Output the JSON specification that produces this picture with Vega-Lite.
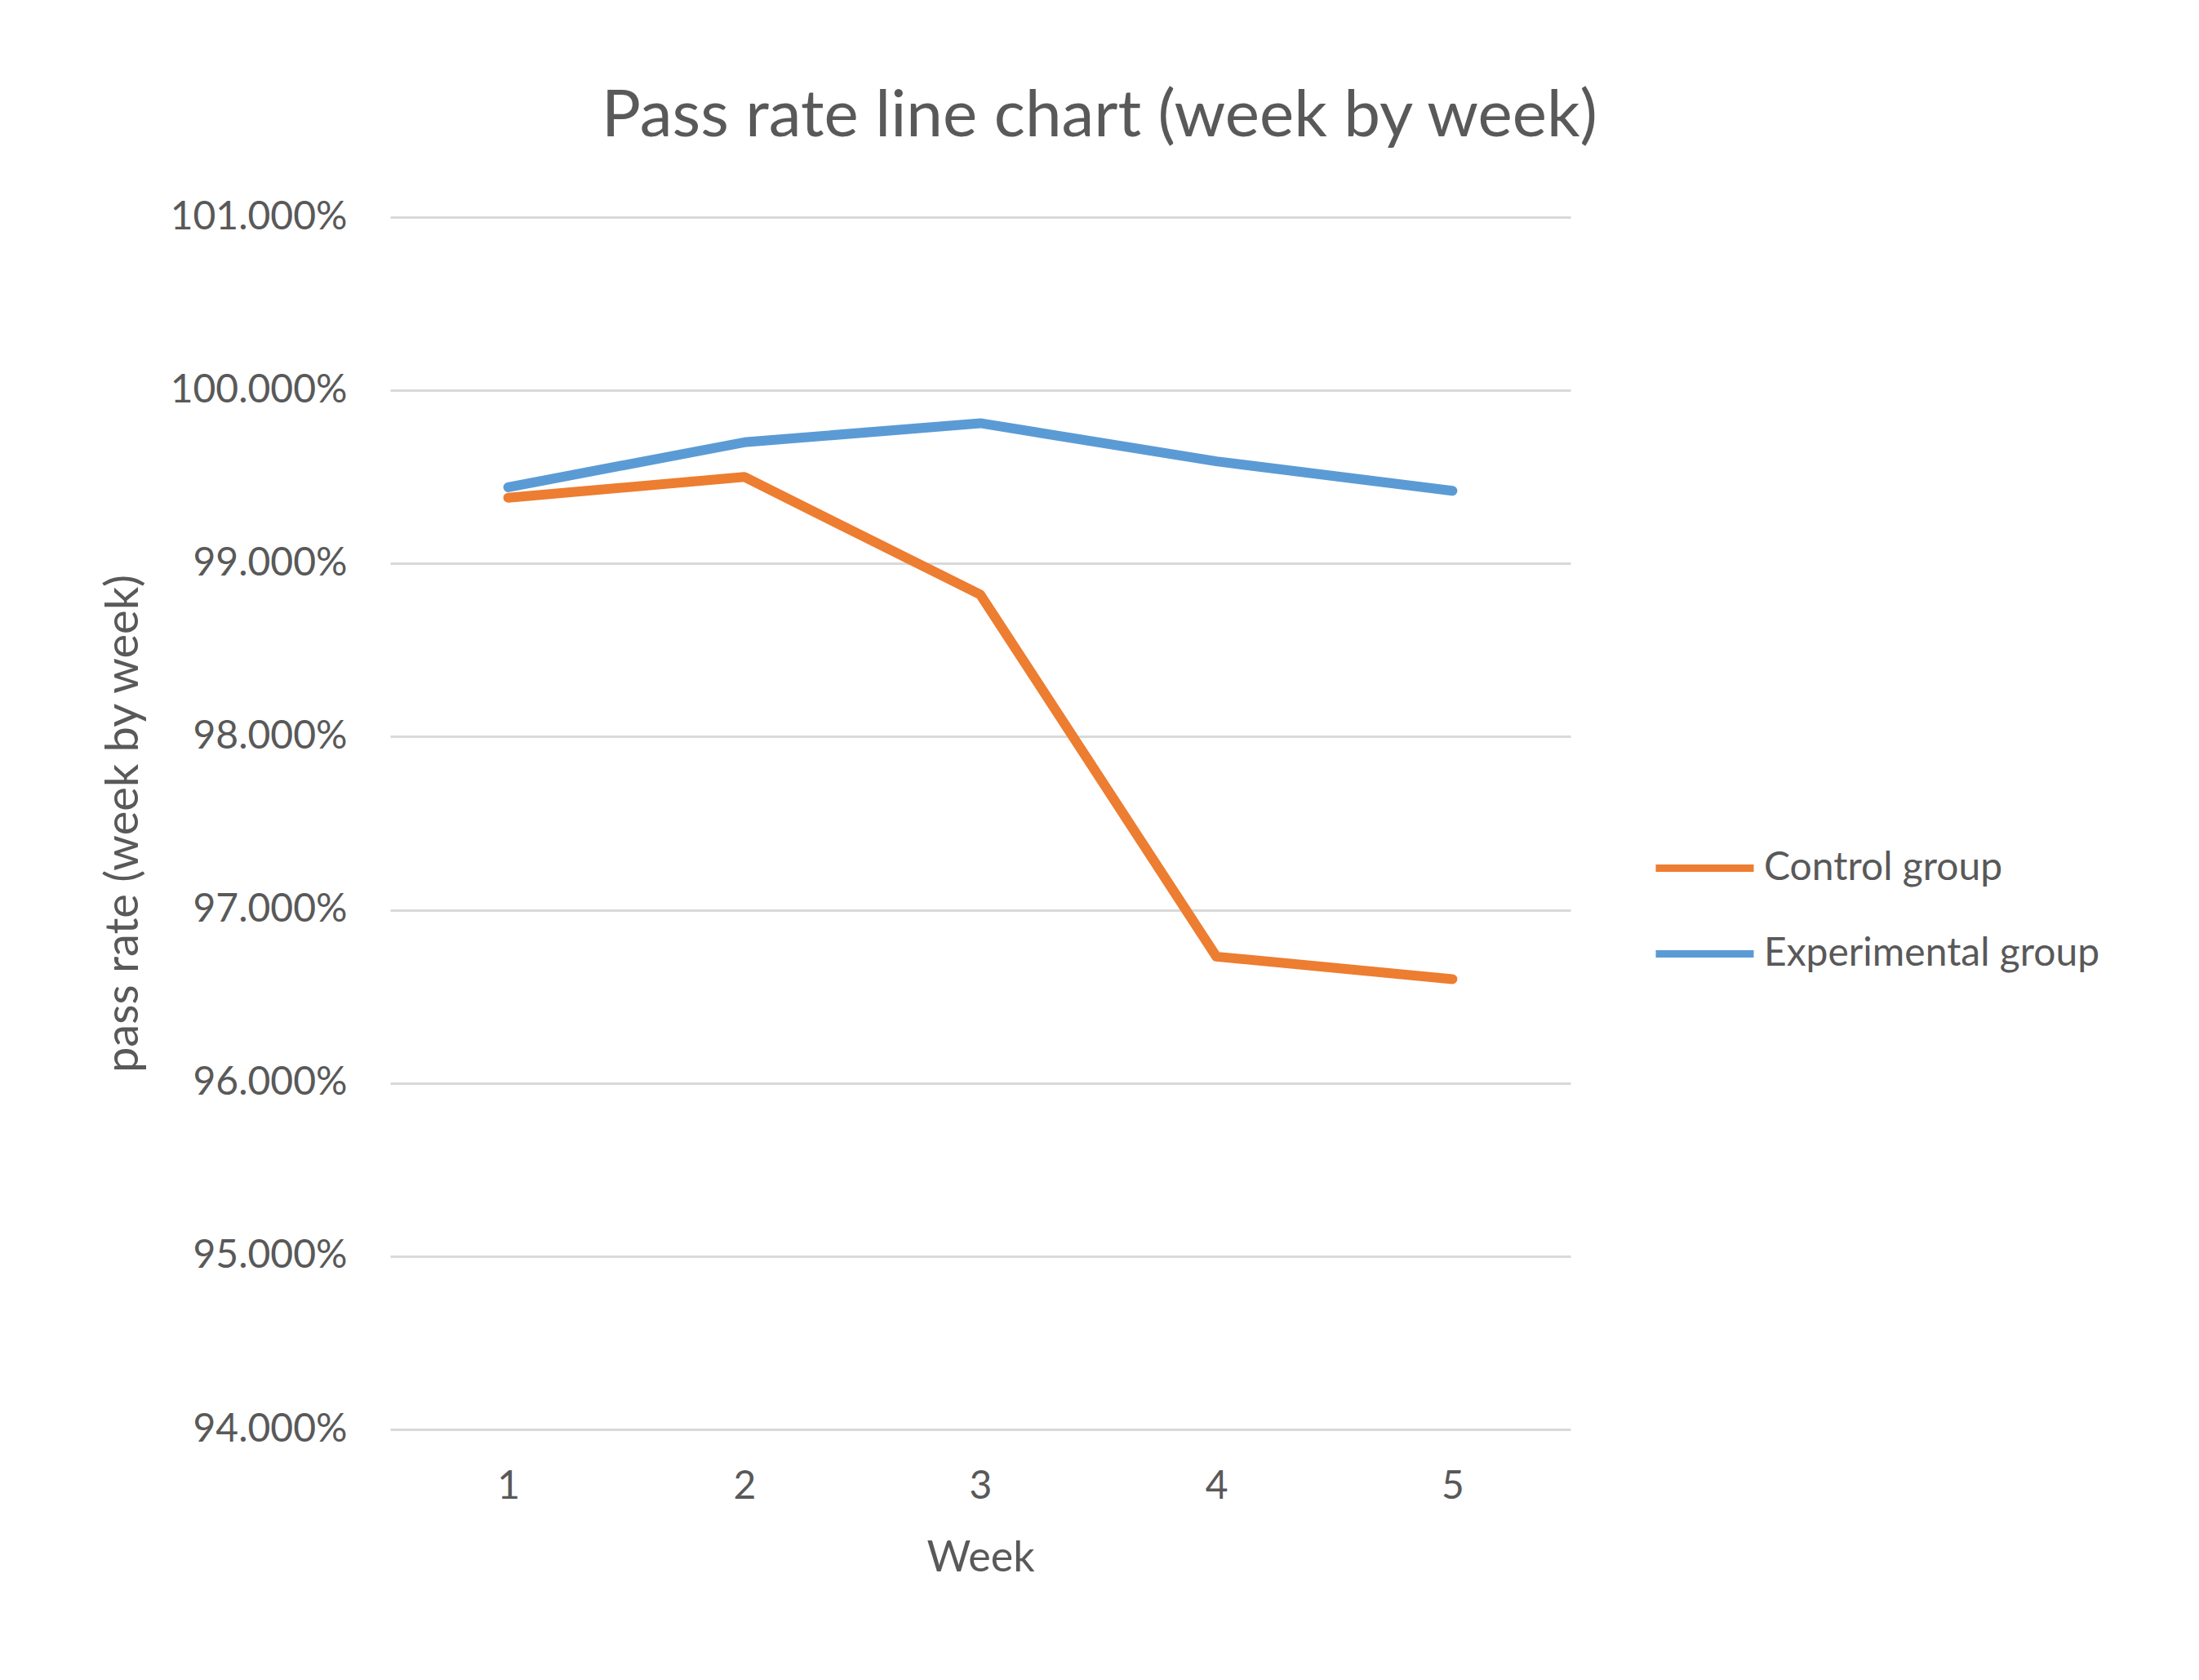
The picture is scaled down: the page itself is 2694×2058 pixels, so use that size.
{
  "$schema": "https://vega.github.io/schema/vega-lite/v6.json",
  "autosize": {"type": "none"},
  "width": 1446,
  "height": 1485,
  "padding": {"left": 478, "top": 266, "right": 770, "bottom": 307},
  "background": "white",
  "view": {"stroke": null},
  "config": {
    "font": "Lato",
    "title": {"fontSize": 80, "fontWeight": "normal", "color": "#595959", "offset": 58, "dx": 146},
    "axis": {"labelColor": "#595959", "titleColor": "#595959", "labelFont": "Lato", "titleFont": "Lato", "titleFontWeight": "normal", "labelLimit": 0},
    "legend": {"labelColor": "#595959", "labelFont": "Lato", "labelLimit": 0}
  },
  "title": {"text": "Pass rate line chart (week by week)"},
  "data": {
    "values": [
      {"Week": "1", "Group": "Control group", "Rate": 99.38},
      {"Week": "2", "Group": "Control group", "Rate": 99.50},
      {"Week": "3", "Group": "Control group", "Rate": 98.82},
      {"Week": "4", "Group": "Control group", "Rate": 96.73},
      {"Week": "5", "Group": "Control group", "Rate": 96.60},
      {"Week": "1", "Group": "Experimental group", "Rate": 99.44},
      {"Week": "2", "Group": "Experimental group", "Rate": 99.70},
      {"Week": "3", "Group": "Experimental group", "Rate": 99.81},
      {"Week": "4", "Group": "Experimental group", "Rate": 99.59},
      {"Week": "5", "Group": "Experimental group", "Rate": 99.42}
    ]
  },
  "mark": {"type": "line", "strokeWidth": 12, "strokeCap": "round", "strokeJoin": "round"},
  "encoding": {
    "x": {
      "field": "Week",
      "type": "ordinal",
      "title": "Week",
      "axis": {
        "labelAngle": 0,
        "labelFontSize": 48,
        "labelPadding": 46,
        "titleFontSize": 52,
        "titlePadding": 38,
        "domain": false,
        "ticks": false,
        "grid": false
      }
    },
    "y": {
      "field": "Rate",
      "type": "quantitative",
      "title": "pass rate (week by week)",
      "scale": {"domain": [94, 101], "nice": false, "zero": false},
      "axis": {
        "values": [94, 95, 96, 97, 98, 99, 100, 101],
        "labelExpr": "format(datum.value, '.3f') + '%'",
        "labelFontSize": 48,
        "labelPadding": 53,
        "titleFontSize": 56,
        "titleX": -327,
        "titleBaseline": "middle",
        "domain": false,
        "ticks": false,
        "gridColor": "#D9D9D9",
        "gridWidth": 3
      }
    },
    "color": {
      "field": "Group",
      "type": "nominal",
      "scale": {"domain": ["Control group", "Experimental group"], "range": ["#ED7D31", "#5B9BD5"]},
      "legend": {
        "title": null,
        "orient": "none",
        "legendX": 1546,
        "legendY": 733,
        "symbolType": "stroke",
        "symbolSize": 14400,
        "symbolStrokeWidth": 9,
        "labelFontSize": 48,
        "labelOffset": 8,
        "rowPadding": 16
      }
    }
  }
}
